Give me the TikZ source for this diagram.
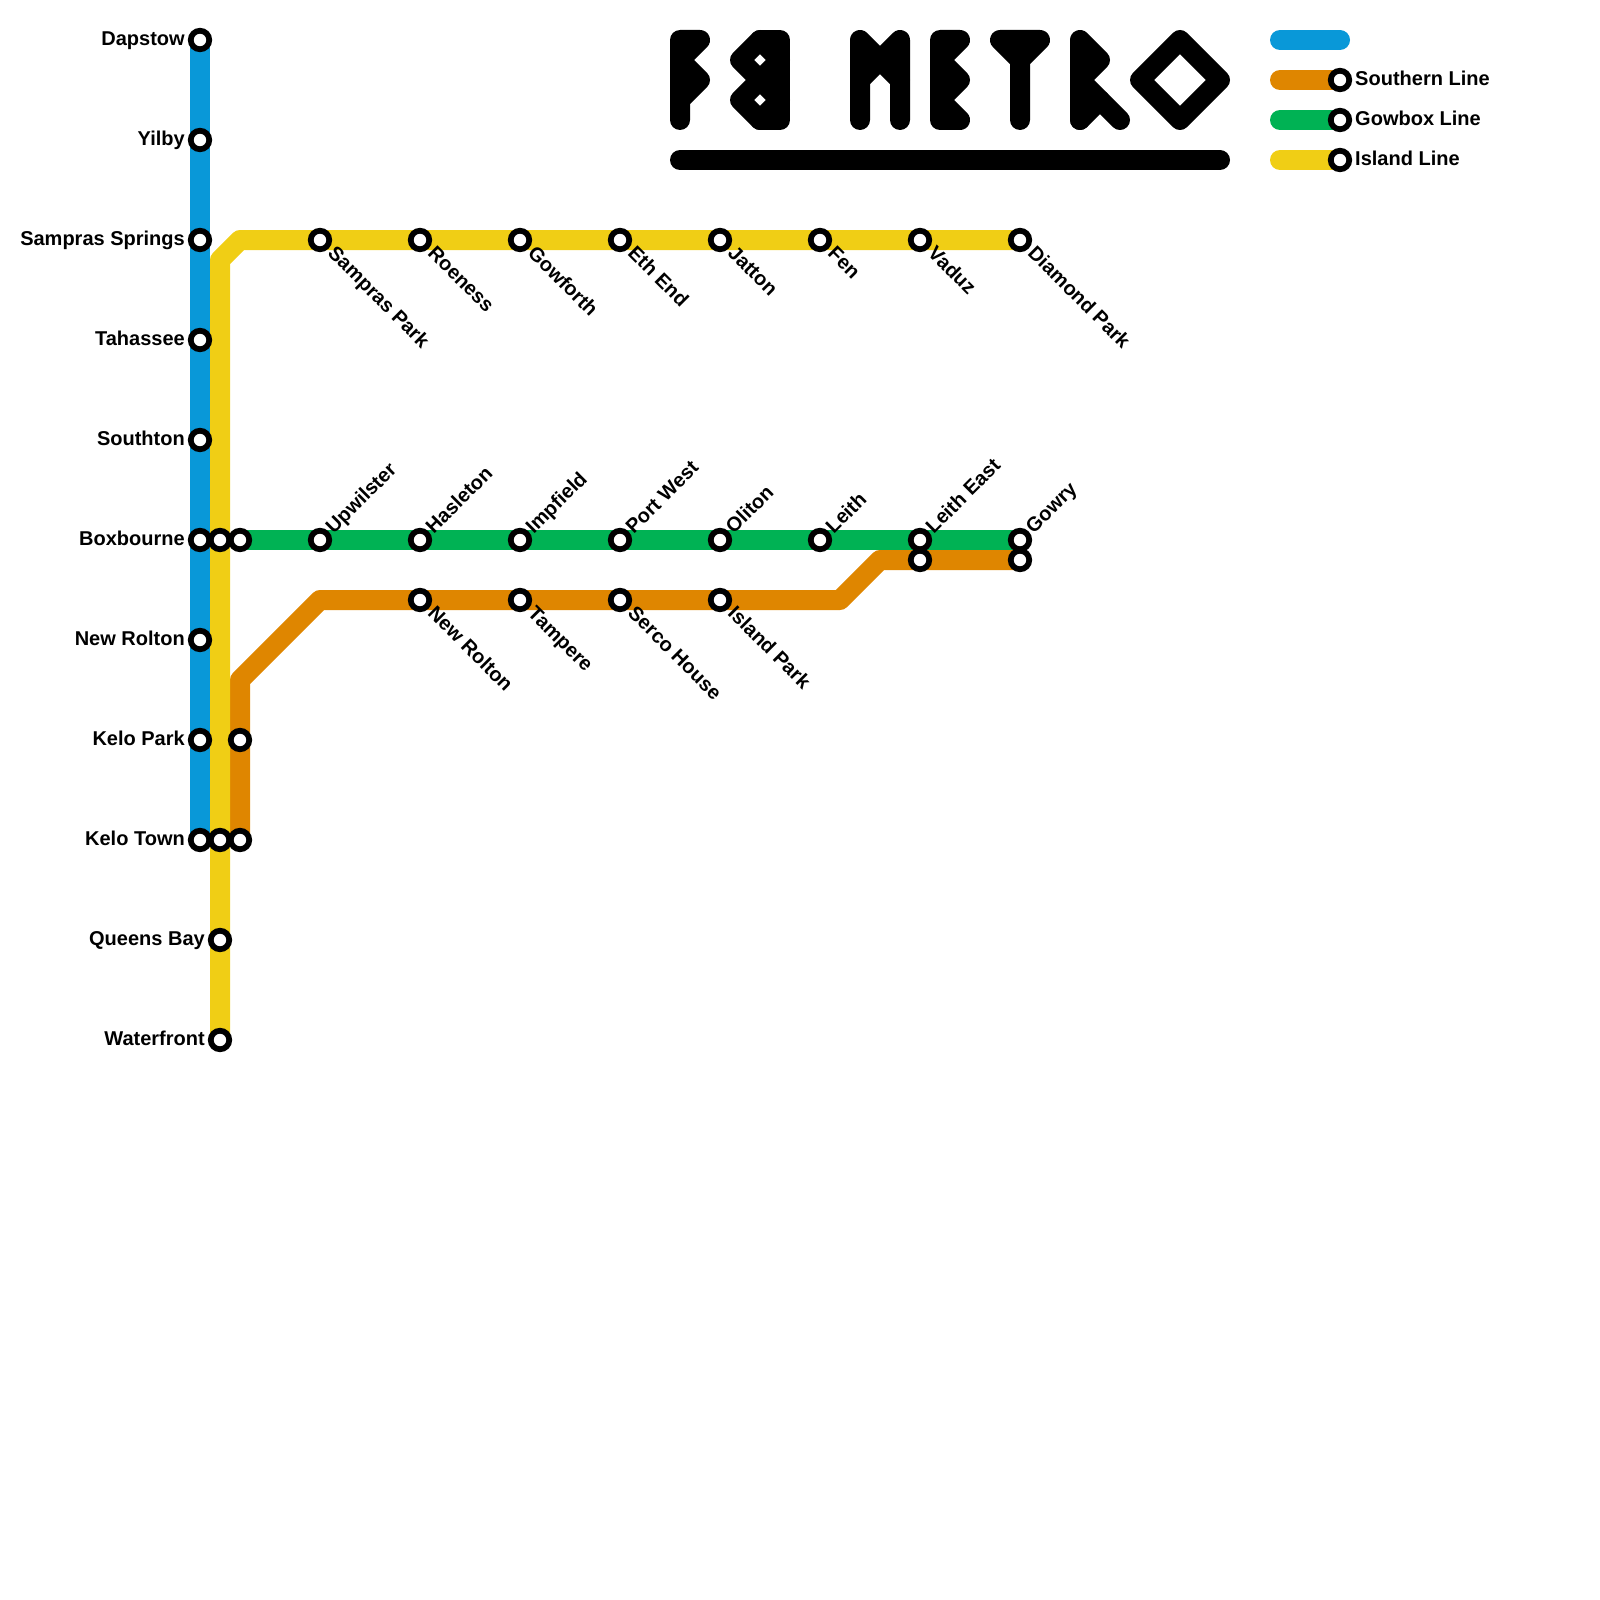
\documentclass[tikz,border=0pt]{standalone}
\usepackage{fontspec}
\setmainfont{Liberation Sans}
\usetikzlibrary{positioning, backgrounds}
\definecolor{bluecolor}{RGB}{9,152,216}
\definecolor{orangecolor}{RGB}{223,134,0}
\definecolor{greencolor}{RGB}{0,178,84}
\definecolor{yellowcolor}{RGB}{240,206,21}

\begin{document}
\begin{tikzpicture}[
    x=1pt, y=-1pt,
    stop/.style={circle, draw=black, fill=white, line width=5.75pt, minimum size=18.5pt, inner sep=0pt},
    stationname/.style={font=\bfseries\fontsize{20}{24}\selectfont, inner sep=0pt, text height=14pt, text depth=4pt},
    sidename/.style={stationname, node distance=2.9pt, yshift=-0.5pt},
    downname/.style={stationname, xshift=1.8pt, yshift=-2.3pt, rotate=-45, node distance=0pt},
    upname/.style={stationname, xshift=1.7pt, yshift=0.2pt, rotate=45, node distance=0pt},
    metroline/.style={line width=20pt, line cap=round, line join=round},
    logo/.style={line width=20pt, line cap=round, line join=round, draw=black}
]
    \useasboundingbox (0,0) rectangle (1600,1600);

    % Blue line stops
    \node[stop] (dapstow) at (200,40) {};
    \node[stop] (yilby) at (200,140) {};
    \node[stop] (samprassprings) at (200,240) {};
    \node[stop] (tahassee) at (200,340) {};
    \node[stop] (southton) at (200,440) {};
    \node[stop] (boxbourne) at (200,540) {};
    \node[stop] (newroltonblue) at (200,640) {};
    \node[stop] (kelopark) at (200,740) {};
    \node[stop] (kelotown) at (200,840) {};
    \node[sidename, left=of dapstow] (dapstowname) {Dapstow};
    \node[sidename, left=of yilby] (yilbyname) {Yilby};
    \node[sidename, left=of samprassprings] (samprasspringsname) {Sampras Springs};
    \node[sidename, left=of tahassee] (tahasseename) {Tahassee};
    \node[sidename, left=of southton] (southtonname) {Southton};
    \node[sidename, left=of boxbourne] (boxbournename) {Boxbourne};
    \node[sidename, left=of newroltonblue] (newroltonbluename) {New Rolton};
    \node[sidename, left=of kelopark] (keloparkname) {Kelo Park};
    \node[sidename, left=of kelotown] (kelotownname) {Kelo Town};

    % Island line stops
    \node[stop] (boxbourneisland) at (220,540) {};
    \node[stop] (kelotownisland) at (220,840) {};
    \node[stop] (queensbay) at (220,940) {};
    \node[stop] (waterfront) at (220,1040) {};
    \node[sidename, left=of queensbay] (queensbayname) {Queens Bay};
    \node[sidename, left=of waterfront] (waterfrontname) {Waterfront};
    \node[stop] (samprasPark) at (320,240) {};
    \node[stop] (roeness) at (420,240) {};
    \node[stop] (gowforth) at (520,240) {};
    \node[stop] (ethend) at (620,240) {};
    \node[stop] (jatton) at (720,240) {};
    \node[stop] (fen) at (820,240) {};
    \node[stop] (vaduz) at (920,240) {};
    \node[stop] (diamondpark) at (1020,240) {};
    \node[downname, right=of samprasPark.south east] (samprasParkname) {Sampras Park};
    \node[downname, right=of roeness.south east] (roenessname) {Roeness};
    \node[downname, right=of gowforth.south east] (gowforthname) {Gowforth};
    \node[downname, right=of ethend.south east] (ethendname) {Eth End};
    \node[downname, right=of jatton.south east] (jattonname) {Jatton};
    \node[downname, right=of fen.south east] (fenname) {Fen};
    \node[downname, right=of vaduz.south east] (vaduzname) {Vaduz};
    \node[downname, right=of diamondpark.south east] (diamondparkname) {Diamond Park};

    % Gowbox line stops
    \node[stop] (boxbournegowbox) at (240,540) {};
    \node[stop] (upwilster) at (320,540) {};
    \node[stop] (hasleton) at (420,540) {};
    \node[stop] (impfield) at (520,540) {};
    \node[stop] (portwest) at (620,540) {};
    \node[stop] (oliton) at (720,540) {};
    \node[stop] (leith) at (820,540) {};
    \node[stop] (leitheast) at (920,540) {};
    \node[stop] (gowry) at (1020,540) {};
    \node[upname, right=of upwilster.north east] (upwilstername) {Upwilster};
    \node[upname, right=of hasleton.north east] (hasletonname) {Hasleton};
    \node[upname, right=of impfield.north east] (impfieldname) {Impfield};
    \node[upname, right=of portwest.north east] (portwestname) {Port West};
    \node[upname, right=of oliton.north east] (olitonname) {Oliton};
    \node[upname, right=of leith.north east] (leithname) {Leith};
    \node[upname, right=of leitheast.north east] (leitheastname) {Leith East};
    \node[upname, right=of gowry.north east] (gowryname) {Gowry};

    % Southern line stops
    \node[stop] (keloparksouth) at (240,740) {};
    \node[stop] (kelotownsouth) at (240,840) {};
    \node[stop] (newrolton) at (420,600) {};
    \node[stop] (tampere) at (520,600) {};
    \node[stop] (sercohouse) at (620,600) {};
    \node[stop] (islandpark) at (720,600) {};
    \node[stop] (leitheastsouth) at (920,560) {};
    \node[stop] (gowrysouth) at (1020,560) {};
    \node[downname, right=of newrolton.south east] (newroltonname) {New Rolton};
    \node[downname, right=of tampere.south east] (tamperename) {Tampere};
    \node[downname, right=of sercohouse.south east] (sercohousename) {Serco House};
    \node[downname, right=of islandpark.south east] (islandparkname) {Island Park};

    % Legend
    \coordinate (keyblue) at (1280,40);
    \coordinate (keybluend) at (1340,40);
    \coordinate (keyorange) at (1280,80);
    \coordinate (keygreen) at (1280,120);
    \coordinate (keyyellow) at (1280,160);
    \node[stop] (keysouthern) at (1340,80) {};
    \node[stop] (keygowbox) at (1340,120) {};
    \node[stop] (keyisland) at (1340,160) {};
    \node[sidename, right=of keysouthern] (keysouthernname) {Southern Line};
    \node[sidename, right=of keygowbox] (keygowboxname) {Gowbox Line};
    \node[sidename, right=of keyisland] (keyislandname) {Island Line};

    % Bends
    \coordinate (islandbendlow) at (220,260);
    \coordinate (islandbendhigh) at (240,240);
    \coordinate (southbendone) at (240,680);
    \coordinate (southbendtwo) at (320,600);
    \coordinate (southbendthree) at (840,600);
    \coordinate (southbendfour) at (880,560);

    % Lines under the stops
    \begin{scope}[on background layer]
        \draw[metroline, bluecolor] (dapstow.center) -- (kelotown.center);
        \draw[metroline, orangecolor] (kelotownsouth.center) -- (southbendone) -- (southbendtwo) -- (southbendthree) -- (southbendfour) -- (gowrysouth.center);
        \draw[metroline, greencolor] (boxbournegowbox.center) -- (gowry.center);
        \draw[metroline, yellowcolor] (waterfront.center) -- (islandbendlow) -- (islandbendhigh) -- (diamondpark.center);
        \draw[metroline, bluecolor] (keyblue) -- (keybluend);
        \draw[metroline, orangecolor] (keyorange) -- (keysouthern.center);
        \draw[metroline, greencolor] (keygreen) -- (keygowbox.center);
        \draw[metroline, yellowcolor] (keyyellow) -- (keyisland.center);
    \end{scope}

    % Title letters
    \draw[logo] (680,120) -- (680,40) -- (700,40) -- (680,60) -- (700,80) -- (680,100);
    \draw[logo] (760,40) -- (780,60) -- (760,80) -- (740,60) -- cycle;
    \draw[logo] (760,80) -- (780,100) -- (760,120) -- (740,100) -- cycle;
    \draw[logo] (760,40) -- (780,40) -- (780,120) -- (760,120);
    \draw[logo] (860,120) -- (860,40) -- (880,60) -- (900,40) -- (900,120);
    \draw[logo] (860,80) -- (880,60) -- (900,80);
    \draw[logo] (960,40) -- (940,40) -- (940,120) -- (960,120) -- (940,100) -- (960,80) -- (940,60) -- cycle;
    \draw[logo] (1020,120) -- (1020,60) -- (1000,40) -- (1040,40) -- (1020,60);
    \draw[logo] (1080,120) -- (1080,40) -- (1100,60) -- (1080,80) -- (1120,120);
    \draw[logo] (1080,120) -- (1100,100);
    \draw[logo] (1180,40) -- (1220,80) -- (1180,120) -- (1140,80) -- cycle;
    \draw[logo] (680,160) -- (1220,160);

\end{tikzpicture}
\end{document}
